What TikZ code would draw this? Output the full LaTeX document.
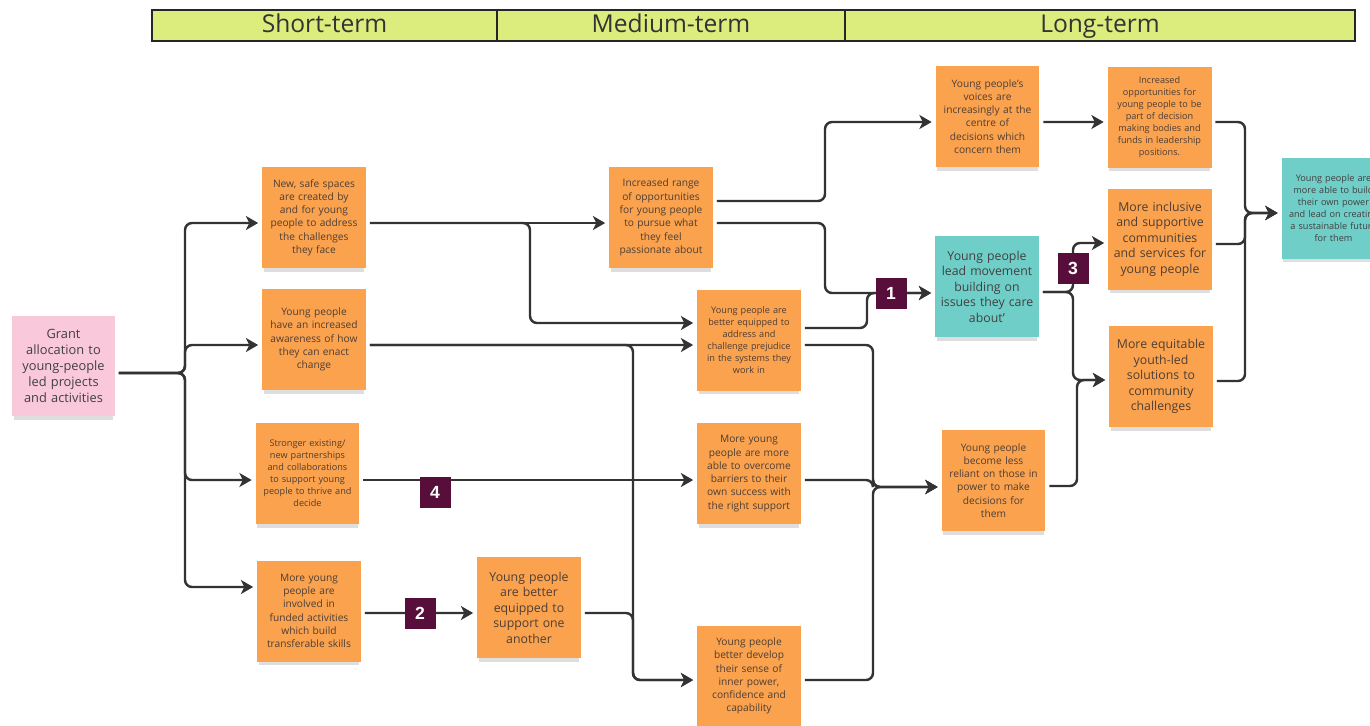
\documentclass[tikz,border=0pt]{standalone}
\usepackage{fontspec}
\setmainfont{Open Sans}
\newfontfamily\badgefont{Liberation Sans}
\usetikzlibrary{arrows.meta,calc,shadows}
\definecolor{orng}{RGB}{250,162,78}
\definecolor{teal2}{RGB}{112,206,200}
\definecolor{pinkc}{RGB}{249,200,218}
\definecolor{badgec}{RGB}{88,14,58}
\definecolor{headc}{RGB}{221,237,125}
\definecolor{linec}{RGB}{51,51,51}
\definecolor{notetext}{RGB}{78,62,52}
\newcommand\mkport[3]{\coordinate (#1) at ($(#2)+(0,#3)$);}
\tikzset{
  note/.style={fill=orng, minimum width=2.08cm, minimum height=2.02cm,
    text width=1.9cm, align=center, inner sep=0pt, outer sep=2.2pt,
    text=notetext,
    drop shadow={shadow xshift=0pt, shadow yshift=-3pt, shadow scale=0.97, opacity=0.13, fill=black}},
  tnote/.style={note, fill=teal2, text=black!75},
  pnote/.style={note, fill=pinkc, text=black!75, minimum width=2.06cm, minimum height=2.0cm},
  fs/.style={font=\fontsize{5.2}{6.8}\selectfont},
  fm/.style={font=\fontsize{5.8}{7.55}\selectfont},
  fl/.style={font=\fontsize{7}{8.8}\selectfont},
  fg/.style={font=\fontsize{7.3}{9.1}\selectfont},
  badge/.style={fill=badgec, minimum size=0.62cm, inner sep=0pt, text=white,
    font=\badgefont\bfseries\fontsize{10}{10}\selectfont},
  head/.style={fill=headc, draw=black!85, line width=1.1pt, inner sep=0pt,
    text height=10.5pt, text depth=3pt, minimum height=0.62cm,
    text=black!80, font=\fontsize{14}{14}\selectfont},
  arr/.style={draw=linec, line width=1.4pt, rounded corners=4pt,
    -{Stealth[length=7pt,width=8pt,inset=2pt]}},
}
\begin{document}
\begin{tikzpicture}[x=0.02cm,y=-0.02cm]
\useasboundingbox (0,0) rectangle (1370,725);
\fill[white] (0,0) rectangle (1370,725);

% header
\node[head, minimum width=6.9cm] (hs) at (324.5,25.5) {Short-term};
\node[head, minimum width=6.96cm] (hm) at (671,25.5) {Medium-term};
\node[head, minimum width=10.2cm] (hl) at (1100,25.5) {Long-term};

% notes
\node[pnote, fg] (grant) at (63.5,366) {Grant\\allocation to\\young-people\\led projects\\and activities};
\node[note, fm] (n1) at (314,217.5) {New, safe spaces\\are created by\\and for young\\people to address\\the challenges\\they face};
\node[note, fm] (n2) at (314,339.5) {Young people\\have an increased\\awareness of how\\they can enact\\change};
\node[note, fs] (n3) at (307.5,473.5) {Stronger existing/\\new partnerships\\and collaborations\\to support young\\people to thrive and\\decide};
\node[note, fm] (n4) at (309,611) {More young\\people are\\involved in\\funded activities\\which build\\transferable skills};
\node[note, fl] (n5) at (529,607.5) {Young people\\are better\\equipped to\\support one\\another};
\node[note, fm] (m1) at (661,217.5) {Increased range\\of opportunities\\for young people\\to pursue what\\they feel\\passionate about};
\node[note, fs] (m2) at (749,340) {Young people are\\better equipped to\\address and\\challenge prejudice\\in the systems they\\work in};
\node[note, fm] (m3) at (749,473.5) {More young\\people are more\\able to overcome\\barriers to their\\own success with\\the right support};
\node[note, fm] (m4) at (749,676) {Young people\\better develop\\their sense of\\inner power,\\confidence and\\capability};
\node[note, fm] (l1) at (987.5,116.5) {Young people's\\voices are\\increasingly at the\\centre of\\decisions which\\concern them};
\node[tnote, fl] (l2) at (987,286.5) {Young people\\lead movement\\building on\\issues they care\\about'};
\node[note, fm] (l3) at (993.5,480.5) {Young people\\become less\\reliant on those in\\power to make\\decisions for\\them};
\node[note, fs] (r1) at (1159.5,117) {Increased\\opportunities for\\young people to be\\part of decision\\making bodies and\\funds in leadership\\positions.};
\node[note, fl] (r2) at (1160,239) {More inclusive\\and supportive\\communities\\and services for\\young people};
\node[note, fl] (r3) at (1161,376.5) {More equitable\\youth-led\\solutions to\\community\\challenges};
\node[tnote, fs] (f) at (1333.5,208) {Young people are\\more able to build\\their own power\\and lead on creating\\a sustainable future\\for them};

% ports
\mkport{g-o}{grant.east}{7}
\mkport{n1-i}{n1.west}{5.5}\mkport{n1-o}{n1.east}{5.5}
\mkport{n2-i}{n2.west}{5.5}\mkport{n2-o}{n2.east}{5.5}
\mkport{n3-i}{n3.west}{6.5}\mkport{n3-o}{n3.east}{6.5}
\mkport{n4-i}{n4.west}{-24}\mkport{n4-o}{n4.east}{2}
\mkport{n5-i}{n5.west}{5.5}\mkport{n5-o}{n5.east}{5.5}
\mkport{m1-i}{m1.west}{5.5}\mkport{m1-oa}{m1.east}{-16.5}\mkport{m1-ob}{m1.east}{5.5}
\mkport{m2-ia}{m2.west}{-17}\mkport{m2-ib}{m2.west}{5}
\mkport{m2-oa}{m2.east}{-12}\mkport{m2-ob}{m2.east}{5}
\mkport{m3-i}{m3.west}{6.5}\mkport{m3-o}{m3.east}{6.5}
\mkport{m4-i}{m4.west}{4}\mkport{m4-o}{m4.east}{4}
\mkport{l1-i}{l1.west}{5.5}\mkport{l1-o}{l1.east}{5.5}
\mkport{l2-i}{l2.west}{6.5}\mkport{l2-o}{l2.east}{5.5}
\mkport{l3-i}{l3.west}{6.5}\mkport{l3-o}{l3.east}{5.5}
\mkport{r1-i}{r1.west}{5}\mkport{r1-o}{r1.east}{5}
\mkport{r2-i}{r2.west}{4}\mkport{r2-o}{r2.east}{5}
\mkport{r3-i}{r3.west}{3.5}\mkport{r3-o}{r3.east}{4.5}
\mkport{f-i}{f.west}{5}

% bus columns
\coordinate (b0) at (185,0);
\coordinate (b1) at (530,0);
\coordinate (b2) at (633,0);
\coordinate (b3) at (825,0);
\coordinate (b4) at (867,0);
\coordinate (b5) at (873,0);
\coordinate (b6) at (1073,0);
\coordinate (b7) at (1077,0);
\coordinate (b8) at (1245,0);

% connectors
\draw[arr] (g-o) -| (b0 |- n1-i) -- (n1-i);
\draw[arr] (g-o) -| (b0 |- n2-i) -- (n2-i);
\draw[arr] (g-o) -| (b0 |- n3-i) -- (n3-i);
\draw[arr] (g-o) -| (b0 |- n4-i) -- (n4-i);
\draw[arr] (n1-o) -- (m1-i);
\draw[arr] (n1-o) -| (b1 |- m2-ia) -- (m2-ia);
\draw[arr] (n2-o) -- (m2-ib);
\draw[arr] (n2-o) -| (b2 |- m4-i) -- (m4-i);
\draw[arr] (n3-o) -- (m3-i);
\draw[arr] (n4-o) -- (n5-i);
\draw[arr] (n5-o) -| (b2 |- m4-i) -- (m4-i);
\draw[arr] (m1-oa) -| (b3 |- l1-i) -- (l1-i);
\draw[arr] (m1-ob) -| (b3 |- l2-i) -- (l2-i);
\draw[arr] (m2-oa) -| (b4 |- l2-i) -- (l2-i);
\draw[arr] (m2-ob) -| (b5 |- l3-i) -- (l3-i);
\draw[arr] (m3-o) -| (b5 |- l3-i) -- (l3-i);
\draw[arr] (m4-o) -| (b5 |- l3-i) -- (l3-i);
\draw[arr] (l1-o) -- (r1-i);
\draw[arr] (l2-o) -| (b6 |- r2-i) -- (r2-i);
\draw[arr] (l2-o) -| (b6 |- r3-i) -- (r3-i);
\draw[arr] (l3-o) -| (b7 |- r3-i) -- (r3-i);
\draw[arr] (r1-o) -| (b8 |- f-i) -- (f-i);
\draw[arr] (r2-o) -| (b8 |- f-i) -- (f-i);
\draw[arr] (r3-o) -| (b8 |- f-i) -- (f-i);

% badges
\node[badge] (k1) at (891,293) {1};
\node[badge] (k2) at (420,613) {2};
\node[badge] (k3) at (1073,268) {3};
\node[badge] (k4) at (435,492) {4};
\end{tikzpicture}
\end{document}
